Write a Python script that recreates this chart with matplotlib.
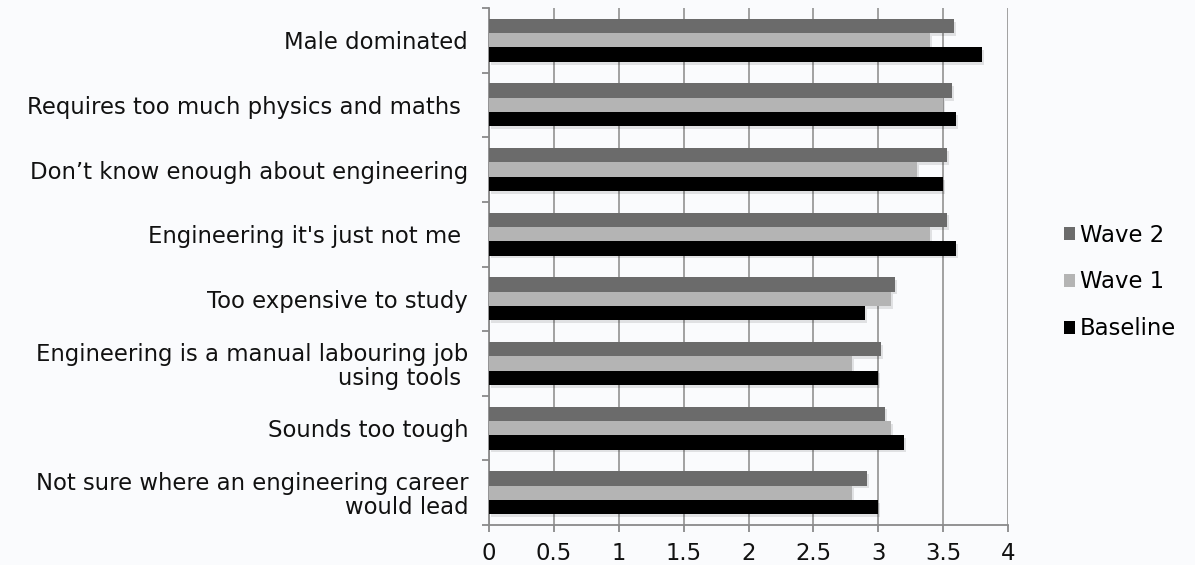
import numpy as np
import matplotlib
matplotlib.use("Agg")
import matplotlib.pyplot as plt
from matplotlib import patheffects as pe
from matplotlib.patches import Patch

plt.rcParams['font.family'] = ['DejaVu Sans']

# Reasons for not choosing engineering, listed top to bottom
categories = [
    "Male dominated",
    "Requires too much physics and maths ",
    "Don\u2019t know enough about engineering",
    "Engineering it's just not me ",
    "Too expensive to study",
    "Engineering is a manual labouring job\nusing tools ",
    "Sounds too tough",
    "Not sure where an engineering career\nwould lead",
]
series_names = ["Wave 2", "Wave 1", "Baseline"]
wave2 = [3.58, 3.57, 3.53, 3.53, 3.13, 3.02, 3.05, 2.91]
wave1 = [3.40, 3.50, 3.30, 3.40, 3.10, 2.80, 3.10, 2.80]
baseline = [3.80, 3.60, 3.50, 3.60, 2.90, 3.00, 3.20, 3.00]
x_ticks = [0, 0.5, 1, 1.5, 2, 2.5, 3, 3.5, 4]
x_tick_labels = ["0", "0.5", "1", "1.5", "2", "2.5", "3", "3.5", "4"]

colors = {"Wave 2": "#6b6b6b", "Wave 1": "#b4b4b4", "Baseline": "#000000"}
bg = "#fafbfd"
fs = 16.4

fig = plt.figure(figsize=(11.95, 5.65), dpi=100, facecolor=bg)
ax = fig.add_axes([489 / 1195, 1 - 525 / 565, (1008 - 489) / 1195, (525 - 8) / 565])
ax.set_facecolor(bg)

n = len(categories)
ypos = np.arange(n)[::-1]  # first category on top
h = 0.222
shadow = [pe.SimplePatchShadow(offset=(1.5, -2), shadow_rgbFace="#000000", alpha=0.10), pe.Normal()]

for vals, name, off in [(wave2, "Wave 2", h), (wave1, "Wave 1", 0.0), (baseline, "Baseline", -h)]:
    ax.barh(ypos + off, vals, height=h, color=colors[name], zorder=3,
            path_effects=shadow, label=name)

ax.set_xlim(0, 4)
ax.set_ylim(-0.5, n - 0.5)
ax.set_xticks(x_ticks)
ax.set_xticklabels(x_tick_labels, fontsize=fs, color="#111111")
ax.tick_params(axis="x", length=5, width=1.3, color="#8a8a8a", pad=7)

# category labels centred on groups, ticks between categories
ax.set_yticks(ypos)
ax.set_yticklabels(categories, fontsize=fs, color="#111111", linespacing=1.05)
ax.tick_params(axis="y", which="major", length=0, pad=15)
ax.set_yticks(np.arange(-0.5, n, 1.0), minor=True)
ax.tick_params(axis="y", which="minor", length=5, width=1.3, color="#8a8a8a", left=True)
for lbl in ax.get_yticklabels():
    lbl.set_horizontalalignment("right")

ax.grid(axis="x", color="#9a9a9a", linewidth=1.3, zorder=0)
ax.set_axisbelow(True)
for side in ("top", "right"):
    ax.spines[side].set_visible(False)
for side in ("left", "bottom"):
    ax.spines[side].set_color("#8a8a8a")
    ax.spines[side].set_linewidth(1.3)

handles = [Patch(facecolor=colors[s], edgecolor="none") for s in series_names]
fig.legend(handles, series_names, loc="center left", bbox_to_anchor=(1064 / 1195, 1 - 282 / 565),
           frameon=False, fontsize=fs, handlelength=0.5, handleheight=0.5,
           handletextpad=0.2, labelspacing=1.05, borderpad=0, borderaxespad=0)

fig.savefig("out.png", dpi=100, facecolor=bg)
